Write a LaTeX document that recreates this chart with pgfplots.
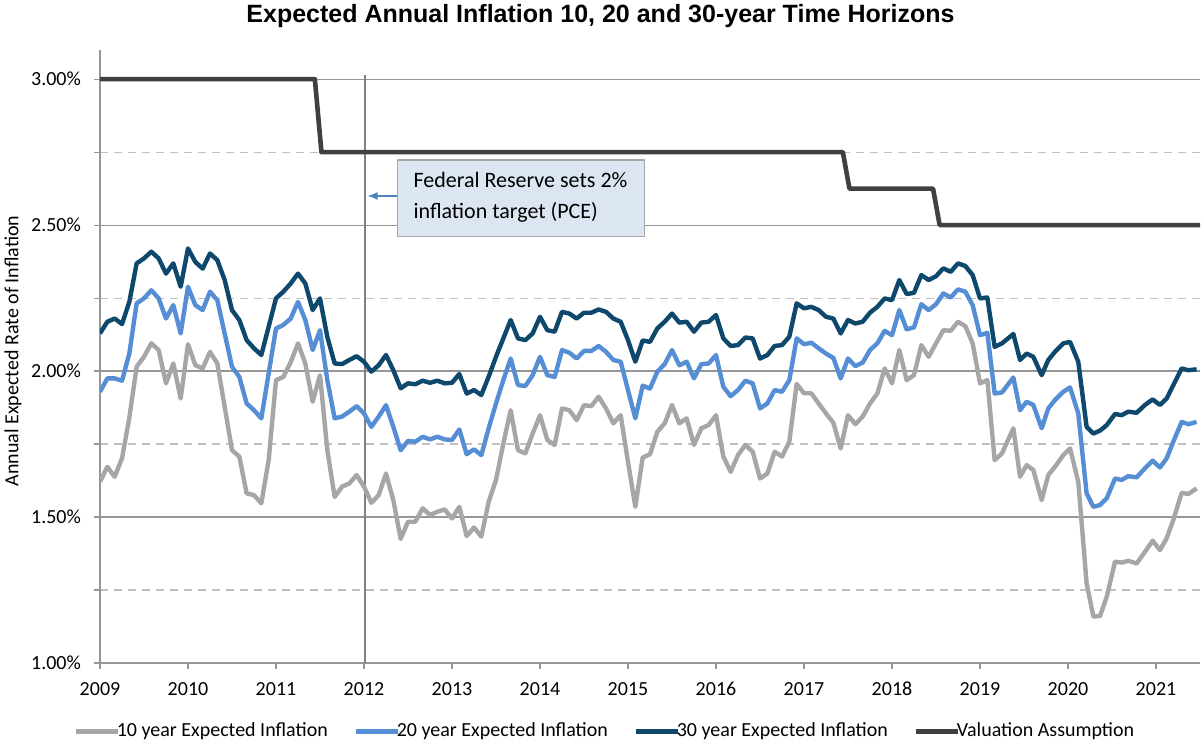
\documentclass[border=0pt]{standalone}
\usepackage{fontspec}
\setmainfont{Carlito}
\newfontfamily\titlefont{Liberation Sans}
\usepackage{pgfplots}
\pgfplotsset{compat=1.18}
\usetikzlibrary{arrows.meta}

\definecolor{tenyr}{RGB}{166,166,166}
\definecolor{twentyyr}{RGB}{85,142,213}
\definecolor{thirtyyr}{RGB}{14,72,108}
\definecolor{valuation}{RGB}{64,64,64}
\definecolor{gridmaj}{RGB}{150,150,150}
\definecolor{gridmin}{RGB}{192,192,192}
\definecolor{boxfill}{RGB}{220,230,242}
\definecolor{arrowblue}{RGB}{79,129,189}

\begin{document}
\begin{tikzpicture}
\path[use as bounding box] (-50pt,-39.5pt) rectangle (550.5pt,331.5pt);
\begin{axis}[
    at={(0,0)}, anchor=south west,
    width=550pt, height=306.5pt, scale only axis,
    xmin=0, xmax=150, ymin=1, ymax=3.1,
    axis lines*=left,
    axis line style={gridmaj, line width=0.6pt},
    xtick={0,12,...,144},
    xticklabels={2009,2010,2011,2012,2013,2014,2015,2016,2017,2018,2019,2020,2021},
    ytick={1,1.5,2,2.5,3},
    yticklabels={1.00\%,1.50\%,2.00\%,2.50\%,3.00\%},
    minor ytick={1.25,1.75,2.25,2.75},
    ymajorgrids, yminorgrids,
    major grid style={gridmaj, line width=0.6pt},
    minor grid style={gridmin, line width=0.6pt, dash pattern=on 4pt off 3pt},
    tick align=outside, major tick length=3pt, minor tick length=3pt,
    tick style={gridmaj, line width=0.6pt},
    tick label style={font=\fontsize{10}{12}\selectfont},
    yticklabel style={xshift=-3pt},
    xticklabel style={yshift=-3pt},
    legend style={at={(axis description cs:0.46,-0.111)}, anchor=center,
        draw=none, fill=none, legend columns=4,
        font=\fontsize{10}{12}\selectfont,
        /tikz/every odd column/.append style={column sep=-4pt},
        /tikz/every even column/.append style={column sep=11pt}},
    legend image code/.code={\draw[#1, line width=2.5pt] (0pt,0pt) -- (21pt,0pt);},
    line join=round,
]
% Fed target announcement (Jan 2012)
\addplot[forget plot, color={rgb,255:red,128;green,128;blue,128}, line width=1pt]
    coordinates {(36.14,1)(36.14,3.014)};

\addplot[tenyr, line width=2.2pt] coordinates {
(0,1.621)(1,1.672)(2,1.638)(3,1.701)(4,1.840)(5,2.015)(6,2.049)(7,2.095)(8,2.072)(9,1.958)(10,2.026)(11,1.906)(12,2.092)(13,2.020)(14,2.009)(15,2.066)(16,2.026)(17,1.878)(18,1.729)(19,1.707)(20,1.581)(21,1.575)(22,1.547)(23,1.695)(24,1.969)(25,1.980)(26,2.030)(27,2.095)(28,2.026)(29,1.895)(30,1.986)(31,1.729)(32,1.569)(33,1.604)(34,1.615)(35,1.644)(36,1.604)(37,1.549)(38,1.575)(39,1.649)(40,1.558)(41,1.425)(42,1.484)(43,1.484)(44,1.530)(45,1.507)(46,1.518)(47,1.526)(48,1.495)(49,1.535)(50,1.435)(51,1.464)(52,1.433)(53,1.552)(54,1.627)(55,1.752)(56,1.866)(57,1.729)(58,1.718)(59,1.786)(60,1.849)(61,1.764)(62,1.747)(63,1.872)(64,1.866)(65,1.832)(66,1.883)(67,1.880)(68,1.912)(69,1.872)(70,1.821)(71,1.849)(72,1.689)(73,1.535)(74,1.704)(75,1.715)(76,1.792)(77,1.821)(78,1.884)(79,1.821)(80,1.838)(81,1.747)(82,1.804)(83,1.815)(84,1.849)(85,1.707)(86,1.655)(87,1.712)(88,1.747)(89,1.724)(90,1.632)(91,1.649)(92,1.724)(93,1.707)(94,1.758)(95,1.956)(96,1.924)(97,1.924)(98,1.889)(99,1.855)(100,1.823)(101,1.735)(102,1.849)(103,1.818)(104,1.844)(105,1.889)(106,1.923)(107,2.009)(108,1.958)(109,2.072)(110,1.969)(111,1.986)(112,2.089)(113,2.049)(114,2.095)(115,2.140)(116,2.138)(117,2.169)(118,2.154)(119,2.095)(120,1.958)(121,1.969)(122,1.695)(123,1.718)(124.55,1.804)(125.46,1.638)(126.36,1.678)(127.27,1.661)(128.41,1.558)(129.31,1.644)(130.22,1.672)(131.36,1.712)(132.28,1.735)(133.40,1.621)(134.54,1.273)(135.46,1.159)(136.37,1.161)(137.28,1.227)(138.41,1.347)(139.32,1.344)(140.22,1.350)(141.36,1.341)(142.50,1.381)(143.54,1.419)(144.54,1.387)(145.45,1.427)(146.36,1.490)(147.50,1.583)(148.40,1.579)(149.54,1.598)
};
\addlegendentry{10 year Expected Inflation}

\addplot[twentyyr, line width=2.2pt] coordinates {
(0,1.929)(1,1.975)(2,1.975)(3,1.967)(4,2.060)(5,2.232)(6,2.249)(7,2.277)(8,2.249)(9,2.180)(10,2.226)(11,2.129)(12,2.289)(13,2.226)(14,2.209)(15,2.272)(16,2.243)(17,2.129)(18,2.015)(19,1.980)(20,1.889)(21,1.866)(22,1.838)(23,1.992)(24,2.146)(25,2.158)(26,2.180)(27,2.237)(28,2.175)(29,2.072)(30,2.140)(31,1.969)(32,1.838)(33,1.844)(34,1.861)(35,1.880)(36,1.855)(37,1.809)(38,1.844)(39,1.883)(40,1.809)(41,1.729)(42,1.761)(43,1.758)(44,1.775)(45,1.766)(46,1.775)(47,1.766)(48,1.764)(49,1.800)(50,1.715)(51,1.732)(52,1.712)(53,1.804)(54,1.889)(55,1.969)(56,2.043)(57,1.952)(58,1.949)(59,1.986)(60,2.049)(61,1.986)(62,1.980)(63,2.072)(64,2.063)(65,2.043)(66,2.069)(67,2.069)(68,2.086)(69,2.066)(70,2.038)(71,2.032)(72,1.935)(73,1.838)(74,1.950)(75,1.940)(76,1.998)(77,2.024)(78,2.072)(79,2.020)(80,2.032)(81,1.975)(82,2.024)(83,2.026)(84,2.055)(85,1.946)(86,1.914)(87,1.935)(88,1.967)(89,1.958)(90,1.872)(91,1.889)(92,1.935)(93,1.929)(94,1.969)(95,2.112)(96,2.092)(97,2.097)(98,2.078)(99,2.060)(100,2.045)(101,1.975)(102,2.043)(103,2.017)(104,2.029)(105,2.072)(106,2.095)(107,2.138)(108,2.123)(109,2.209)(110,2.143)(111,2.150)(112,2.229)(113,2.209)(114,2.229)(115,2.266)(116,2.252)(117,2.280)(118,2.272)(119,2.226)(120,2.123)(121,2.131)(122,1.923)(123,1.927)(124.55,1.978)(125.46,1.866)(126.36,1.895)(127.27,1.884)(128.41,1.804)(129.31,1.872)(130.22,1.901)(131.36,1.929)(132.28,1.944)(133.40,1.855)(134.54,1.581)(135.46,1.535)(136.37,1.541)(137.28,1.564)(138.41,1.632)(139.32,1.627)(140.22,1.640)(141.36,1.636)(142.50,1.667)(143.54,1.693)(144.54,1.670)(145.45,1.701)(146.36,1.758)(147.50,1.826)(148.40,1.818)(149.54,1.826)
};
\addlegendentry{20 year Expected Inflation}

\addplot[thirtyyr, line width=2.2pt] coordinates {
(0,2.129)(1,2.169)(2,2.180)(3,2.161)(4,2.237)(5,2.369)(6,2.386)(7,2.409)(8,2.386)(9,2.334)(10,2.369)(11,2.289)(12,2.420)(13,2.374)(14,2.351)(15,2.403)(16,2.380)(17,2.312)(18,2.209)(19,2.175)(20,2.106)(21,2.078)(22,2.055)(23,2.152)(24,2.249)(25,2.272)(26,2.300)(27,2.334)(28,2.300)(29,2.209)(30,2.249)(31,2.117)(32,2.026)(33,2.024)(34,2.038)(35,2.051)(36,2.032)(37,1.998)(38,2.020)(39,2.055)(40,2.003)(41,1.941)(42,1.958)(43,1.955)(44,1.967)(45,1.960)(46,1.967)(47,1.958)(48,1.960)(49,1.990)(50,1.923)(51,1.935)(52,1.918)(53,1.981)(54,2.049)(55,2.112)(56,2.175)(57,2.112)(58,2.106)(59,2.129)(60,2.186)(61,2.140)(62,2.135)(63,2.203)(64,2.197)(65,2.180)(66,2.200)(67,2.200)(68,2.211)(69,2.203)(70,2.180)(71,2.169)(72,2.106)(73,2.032)(74,2.105)(75,2.100)(76,2.146)(77,2.169)(78,2.197)(79,2.166)(80,2.169)(81,2.135)(82,2.166)(83,2.169)(84,2.192)(85,2.112)(86,2.086)(87,2.089)(88,2.115)(89,2.112)(90,2.043)(91,2.055)(92,2.086)(93,2.089)(94,2.118)(95,2.232)(96,2.215)(97,2.220)(98,2.209)(99,2.186)(100,2.180)(101,2.129)(102,2.175)(103,2.163)(104,2.169)(105,2.200)(106,2.220)(107,2.249)(108,2.243)(109,2.312)(110,2.264)(111,2.268)(112,2.329)(113,2.312)(114,2.325)(115,2.352)(116,2.340)(117,2.369)(118,2.360)(119,2.329)(120,2.249)(121,2.252)(122,2.083)(123,2.095)(124.55,2.127)(125.46,2.038)(126.36,2.060)(127.27,2.049)(128.41,1.986)(129.31,2.038)(130.22,2.066)(131.36,2.095)(132.28,2.100)(133.40,2.032)(134.54,1.809)(135.46,1.786)(136.37,1.796)(137.28,1.815)(138.41,1.853)(139.32,1.849)(140.22,1.861)(141.36,1.857)(142.50,1.884)(143.54,1.903)(144.54,1.884)(145.45,1.906)(146.36,1.952)(147.50,2.009)(148.40,2.003)(149.54,2.006)
};
\addlegendentry{30 year Expected Inflation}

\addplot[valuation, line width=2.3pt] coordinates {
(0,3.00)(29.3,3.00)(30.2,2.75)(101.3,2.75)(102.2,2.625)(113.6,2.625)(114.5,2.50)(150,2.50)
};
\addlegendentry{Valuation Assumption}

% annotation
\draw[arrowblue, line width=0.6pt, -{Latex[length=5pt,width=4pt]}]
    (axis cs:40.6,2.60) -- (axis cs:36.5,2.60);
\draw[tenyr, line width=0.6pt, fill=boxfill]
    (axis cs:40.6,2.462) rectangle (axis cs:74.3,2.723);
\node[anchor=west, align=left, inner sep=0pt, font=\fontsize{11}{15.5}\selectfont]
    at (axis cs:42.7,2.594) {Federal Reserve sets 2\%\\inflation target (PCE)};
\end{axis}

\node[font=\titlefont\bfseries\fontsize{12.5}{15}\selectfont] at (250.25pt,323.5pt)
    {Expected Annual Inflation 10, 20 and 30-year Time Horizons};
\node[rotate=90, font=\fontsize{10}{12}\selectfont] at (-43.5pt,156pt)
    {Annual Expected Rate of Inflation};
\end{tikzpicture}
\end{document}
